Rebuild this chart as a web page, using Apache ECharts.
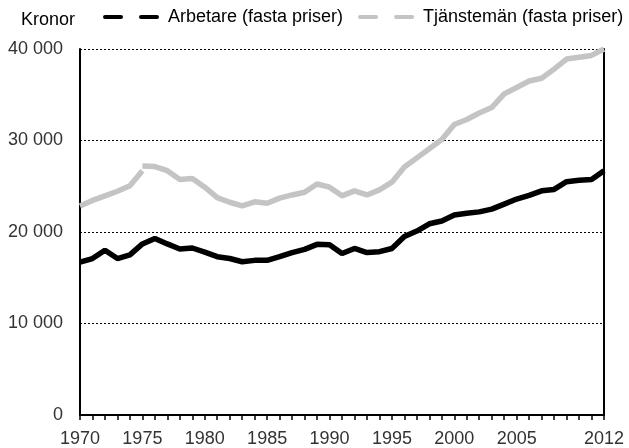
<!DOCTYPE html>
<html>
<head>
<meta charset="utf-8">
<script src="https://cdn.jsdelivr.net/npm/echarts@6/dist/echarts.min.js"></script>
<style>
  html, body { margin: 0; padding: 0; background: #fff; }
  #chart { width: 629px; height: 448px; }
</style>
</head>
<body>
<div id="chart"></div>
<script>
const years = []
for (let y = 1970; y <= 2012; y++) years.push(String(y))

const xLabels = ['1970', '1975', '1980', '1985', '1990', '1995', '2000', '2005', '2012']
const yLabels = ['0', '10 000', '20 000', '30 000', '40 000']

// Arbetare, 1970-2012
const arbetare = [
  16700, 17100, 18000, 17100, 17500, 18700, 19300, 18700, 18150, 18250,
  17800, 17300, 17100, 16750, 16900, 16900, 17300, 17750, 18100, 18650,
  18600, 17650, 18200, 17750, 17850, 18200, 19500, 20100, 20900, 21200,
  21850, 22050, 22200, 22500, 23050, 23600, 24000, 24500, 24650, 25500,
  25650, 25750, 26700
]

// Tjänstemän, old series 1970-1975
const tjanstemanOld = [22850, 23450, 23950, 24450, 25050, 26700]

// Tjänstemän, new series 1975-2012
const tjanstemanNew = [
  27200, 27150, 26700, 25750, 25850, 24900, 23750, 23250, 22850, 23300,
  23150, 23700, 24050, 24350, 25250, 24900, 23950, 24500, 24050, 24600,
  25450, 27100, 28100, 29100, 30100, 31750, 32300, 33000, 33600, 35100,
  35800, 36500, 36800, 37800, 38900, 39100, 39300, 40000
]

const nameA = 'Arbetare (fasta priser)'
const nameT = 'Tjänstemän (fasta priser)'
const black = '#000000'
const grey = '#c4c4c4'

const oldData = years.map((y, i) => (i < tjanstemanOld.length ? tjanstemanOld[i] : null))
const newStart = years.indexOf('1975')
const newData = years.map((y, i) => (i >= newStart ? tjanstemanNew[i - newStart] : null))

const chart = echarts.init(document.getElementById('chart'), null, { renderer: 'canvas' })
const font = "'Liberation Sans', Arial, sans-serif"

chart.setOption({
  animation: false,
  title: {
    text: 'Kronor',
    left: 21,
    top: 11,
    padding: 0,
    textStyle: { fontFamily: font, fontSize: 18, fontWeight: 'normal', color: '#000' }
  },
  legend: {
    left: 103,
    top: 8,
    padding: 0,
    itemGap: 15,
    itemWidth: 56,
    itemHeight: 5,
    icon: 'path://M2,0H18A2,2,0,0,1,18,4H2A2,2,0,0,1,2,0Z M38,0H54A2,2,0,0,1,54,4H38A2,2,0,0,1,38,0Z',
    textStyle: { fontFamily: font, fontSize: 18, color: '#000', padding: [0, 0, 0, 4] },
    data: [
      { name: nameA, itemStyle: { color: black } },
      { name: nameT, itemStyle: { color: grey } }
    ]
  },
  grid: {
    left: 80,
    right: 25,
    top: 49,
    bottom: 33
  },
  xAxis: {
    type: 'category',
    data: years,
    boundaryGap: false,
    axisLine: { lineStyle: { color: '#000', width: 2 } },
    axisTick: {
      show: true,
      interval: 0,
      length: 5,
      lineStyle: { color: '#000', width: 1.5 }
    },
    axisLabel: {
      interval: (index, value) => xLabels.includes(value),
      fontFamily: font,
      fontSize: 18,
      color: '#333',
      margin: 15
    },
    splitLine: { show: false }
  },
  yAxis: [
    {
      type: 'value',
      min: 0,
      max: 40000,
      interval: 10000,
      axisLine: { show: true, lineStyle: { color: '#000', width: 2 } },
      axisTick: { show: false },
      axisLabel: {
        formatter: (v) => yLabels[Math.round(v / 10000)],
        fontFamily: font,
        fontSize: 18,
        color: '#333',
        margin: 17
      },
      splitLine: {
        show: true,
        lineStyle: { color: '#000', width: 1, type: [2, 2] }
      }
    },
    {
      type: 'value',
      position: 'right',
      min: 0,
      max: 40000,
      interval: 10000,
      axisLine: { show: true, lineStyle: { color: '#000', width: 2 } },
      axisTick: { show: false },
      axisLabel: { show: false },
      splitLine: { show: false }
    }
  ],
  series: [
    {
      name: nameA,
      type: 'line',
      data: arbetare,
      symbol: 'none',
      itemStyle: { color: black },
      lineStyle: { color: black, width: 5.5 }
    },
    {
      name: nameT,
      type: 'line',
      data: oldData,
      symbol: 'none',
      itemStyle: { color: grey },
      lineStyle: { color: grey, width: 5.5 }
    },
    {
      name: nameT,
      type: 'line',
      data: newData,
      symbol: 'none',
      itemStyle: { color: grey },
      lineStyle: { color: grey, width: 5.5 }
    }
  ]
})
</script>
</body>
</html>
